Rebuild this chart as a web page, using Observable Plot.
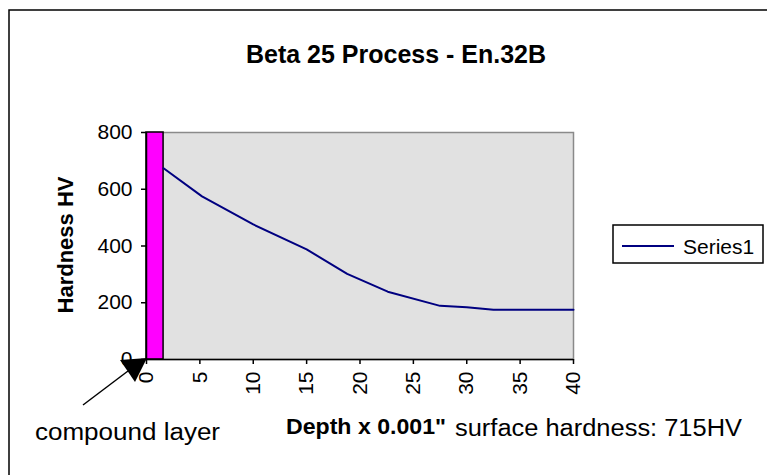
<!DOCTYPE html>
<html><head><meta charset="utf-8">
<script src="https://cdn.jsdelivr.net/npm/d3@7"></script>
<script src="https://cdn.jsdelivr.net/npm/@observablehq/plot@0.6"></script>
<style>
html,body{margin:0;padding:0;background:#fff;overflow:hidden;}
#chart{width:767px;height:475px;}
</style></head><body><div id="chart"></div>
<script>
// ---- data ----
const depth = [1.6, 5.2, 10, 15, 18.8, 22.6, 27.5, 30, 32.5, 35, 40];
const hardness = [674, 575, 476, 388, 302, 239, 189, 184, 175, 175, 175];
const compoundLayerDepth = [0, 1.6];
const compoundLayerHardness = [0, 800];
const xTicks = [0, 5, 10, 15, 20, 25, 30, 35, 40];
const yTicks = [0, 200, 400, 600, 800];
const titleText = "Beta 25 Process - En.32B";
const yLabelText = "Hardness HV";
const xLabelText = 'Depth x 0.001"';
const noteText = "surface hardness: 715HV";
const annotationText = "compound layer";
const seriesName = "Series1";

const FONT = '"Liberation Sans", Arial, Helvetica, sans-serif';
const NAVY = "#000080";

const series = depth.map((d, i) => ({depth: d, hardness: hardness[i]}));
const layer = [{x1: compoundLayerDepth[0], x2: compoundLayerDepth[1], y1: compoundLayerHardness[0], y2: compoundLayerHardness[1]}];

const plot = Plot.plot({
  width: 767, height: 475,
  marginLeft: 146, marginRight: 194, marginTop: 132, marginBottom: 116,
  style: {fontFamily: FONT, fontSize: "21px", color: "#000", background: "#fff", overflow: "visible"},
  x: {domain: [0, 40]},
  y: {domain: [0, 800]},
  marks: [
    Plot.frame({fill: "#e1e1e1", stroke: "#8a8a8a", strokeWidth: 1.5}),
    Plot.rect(layer, {x1: "x1", x2: "x2", y1: "y1", y2: "y2", fill: "#ff00ff", stroke: "#000", strokeWidth: 1.5}),
    Plot.line(series, {x: "depth", y: "hardness", stroke: NAVY, strokeWidth: 2}),
    Plot.ruleX([0], {stroke: "#000", strokeWidth: 1.5}),
    Plot.ruleY([0], {stroke: "#000", strokeWidth: 1.5}),
    Plot.axisX({ticks: xTicks, tickSize: 5, tickPadding: 7, tickRotate: -90, label: null, strokeWidth: 1.5}),
    Plot.axisY({ticks: yTicks, tickSize: 5, tickPadding: 9, label: null, strokeWidth: 1.5})
  ]
});
document.getElementById("chart").appendChild(plot);

const svg = d3.select(plot);
const sx = plot.scale("x"), sy = plot.scale("y");
const g = svg.append("g").attr("font-family", FONT).attr("fill", "#000").attr("text-anchor", "start");

// outer chart border (top and left visible)
g.append("path").attr("d", "M9,475V10H767").attr("fill", "none").attr("stroke", "#000").attr("stroke-width", 1.5);

// title
g.append("text").attr("x", 396).attr("y", 63).attr("text-anchor", "middle")
  .attr("font-size", 25).attr("font-weight", "bold").text(titleText);

// y label
g.append("text").attr("transform", "translate(73,245) rotate(-90)").attr("text-anchor", "middle")
  .attr("font-size", 22).attr("font-weight", "bold").text(yLabelText);

// x label and note
g.append("text").attr("x", 286).attr("y", 434).attr("font-size", 22).attr("font-weight", "bold")
  .attr("textLength", 160).attr("lengthAdjust", "spacingAndGlyphs").text(xLabelText);
g.append("text").attr("x", 455).attr("y", 436).attr("font-size", 23)
  .attr("textLength", 287).attr("lengthAdjust", "spacingAndGlyphs").text(noteText);

// annotation
g.append("text").attr("x", 35).attr("y", 440).attr("font-size", 23)
  .attr("textLength", 185).attr("lengthAdjust", "spacingAndGlyphs").text(annotationText);
const tx = sx.apply(0), ty = sy.apply(0);
g.append("line").attr("x1", tx - 63).attr("y1", ty + 46).attr("x2", tx - 18).attr("y2", ty + 12)
  .attr("stroke", "#000").attr("stroke-width", 1.5);
g.append("path").attr("d", `M${tx + 1},${ty - 1}L${tx - 26},${ty + 1}L${tx - 11},${ty + 23}Z`).attr("fill", "#000");

// legend
const lg = g.append("g");
lg.append("rect").attr("x", 613).attr("y", 225).attr("width", 150).attr("height", 38)
  .attr("fill", "#fff").attr("stroke", "#000").attr("stroke-width", 1.5);
lg.append("line").attr("x1", 622).attr("x2", 674).attr("y1", 246).attr("y2", 246).attr("stroke", NAVY).attr("stroke-width", 2);
lg.append("text").attr("x", 683).attr("y", 254).attr("font-size", 21).text(seriesName);
</script></body></html>
